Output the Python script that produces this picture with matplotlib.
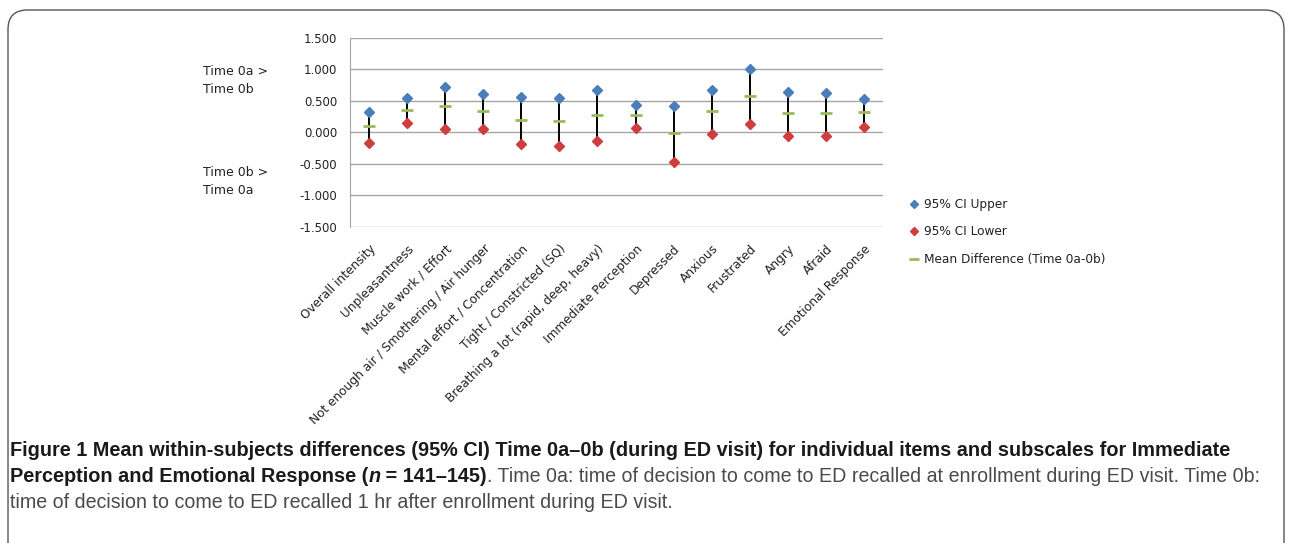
import matplotlib
matplotlib.use("Agg")
import matplotlib.pyplot as plt
from matplotlib.patches import FancyBboxPatch

categories = ["Overall intensity", "Unpleasantness", "Muscle work / Effort",
              "Not enough air / Smothering / Air hunger", "Mental effort / Concentration",
              "Tight / Constricted (SQ)", "Breathing a lot (rapid, deep, heavy)",
              "Immediate Perception", "Depressed", "Anxious", "Frustrated", "Angry",
              "Afraid", "Emotional Response"]
ci_upper = [0.33, 0.548, 0.718, 0.617, 0.564, 0.548, 0.675, 0.44, 0.42, 0.67, 1.01, 0.65, 0.633, 0.527]
ci_lower = [-0.17, 0.149, 0.058, 0.058, -0.186, -0.207, -0.133, 0.064, -0.468, -0.027, 0.133, -0.048, -0.048, 0.085]
mean_diff = [0.096, 0.36, 0.415, 0.34, 0.20, 0.18, 0.27, 0.277, -0.01, 0.34, 0.574, 0.31, 0.31, 0.325]
yticks = [-1.5, -1.0, -0.5, 0.0, 0.5, 1.0, 1.5]

W, H = 1292, 543
fig = plt.figure(figsize=(W / 100, H / 100), dpi=100)
fig.patch.set_facecolor("white")

# frame
frame = FancyBboxPatch((8 / W, -0.05), 1276 / W, (H - 10) / H + 0.05,
                       boxstyle="round,pad=0,rounding_size=0.015",
                       transform=fig.transFigure, fill=False, ec="#555555", lw=1.0,
                       mutation_aspect=W / H)
fig.patches.append(frame)

ax = fig.add_axes([350 / W, 1 - 227 / H, (883 - 350) / W, (227 - 38) / H])
x = list(range(len(categories)))
ax.vlines(x, ci_lower, ci_upper, color="black", lw=1.4, zorder=2)
ax.plot(x, ci_upper, ls="none", marker="D", ms=5.5, color="#4A7EBB", zorder=3, label="95% CI Upper")
ax.plot(x, ci_lower, ls="none", marker="D", ms=5.5, color="#CF3E3E", zorder=3, label="95% CI Lower")
ax.plot(x, mean_diff, ls="none", marker="_", ms=9, mew=2, color="#9BBB59", zorder=4,
        label="Mean Difference (Time 0a-0b)")

ax.set_xlim(-0.5, len(categories) - 0.5)
ax.set_ylim(-1.5, 1.5)
ax.set_yticks(yticks)
ax.set_yticklabels([f"{v:.3f}" for v in yticks], fontsize=8.5, color="#222222")
ax.yaxis.grid(True, color="#A6A6A6", lw=1)
ax.set_axisbelow(True)
ax.tick_params(axis="y", length=0, pad=9)
ax.tick_params(axis="x", length=0, pad=11)
ax.set_xticks(x)
ax.set_xticklabels(categories, rotation=45, ha="right", rotation_mode="anchor",
                   fontsize=8.7, color="#222222")
for s in ["top", "right", "bottom"]:
    ax.spines[s].set_visible(False)
ax.spines["left"].set_color("#A6A6A6")

fig.text(203 / W, 1 - 80 / H, "Time 0a >\nTime 0b", fontsize=9, va="center", ha="left",
         color="#222222", linespacing=1.5)
fig.text(203 / W, 1 - 182 / H, "Time 0b >\nTime 0a", fontsize=9, va="center", ha="left",
         color="#222222", linespacing=1.5)

leg = fig.legend(handles=ax.get_lines()[0:3], loc="upper left",
                 bbox_to_anchor=(899 / W, 1 - 187 / H), frameon=False, fontsize=8.7,
                 handlelength=0.7, handletextpad=0.5, labelspacing=1.2, markerscale=0.8)
for t in leg.get_texts():
    t.set_color("#222222")

# caption
renderer = fig.canvas.get_renderer()
cap_font = ["Liberation Sans", "DejaVu Sans"]
bold_c = "#1a1a1a"
reg_c = "#4a4a4a"

def measure(txt, size, weight, style):
    t = fig.text(0, 0, txt, fontsize=size, family=cap_font, weight=weight, style=style)
    w = t.get_window_extent(renderer=renderer).width
    t.remove()
    return w

def draw_line(pieces, x0, y0):
    xc = x0
    for txt, size, weight, style, color in pieces:
        t = fig.text(xc / W, 1 - y0 / H, txt, fontsize=size, family=cap_font, weight=weight,
                     style=style, color=color, va="baseline", ha="left")
        xc += t.get_window_extent(renderer=renderer).width
    return xc

line1 = "Figure 1 Mean within-subjects differences (95% CI) Time 0a\u20130b (during ED visit) for individual items and subscales for Immediate"
bsize = 13 * 1212 / measure(line1, 13, "bold", "normal")
b2 = ["Perception and Emotional Response (", "n", " = 141\u2013145)"]
reg2 = ". Time 0a: time of decision to come to ED recalled at enrollment during ED visit. Time 0b:"
reg3 = "time of decision to come to ED recalled 1 hr after enrollment during ED visit."
bw = measure(b2[0], bsize, "bold", "normal") + measure(b2[1], bsize, "bold", "italic") + \
     measure(b2[2], bsize, "bold", "normal")
avail = 1254 - 10 - bw
rsize = 13 * avail / measure(reg2, 13, "normal", "normal")
rsize = min(rsize, bsize * 1.05)

draw_line([(line1, bsize, "bold", "normal", bold_c)], 10, 456)
draw_line([(b2[0], bsize, "bold", "normal", bold_c),
           (b2[1], bsize, "bold", "italic", bold_c),
           (b2[2], bsize, "bold", "normal", bold_c),
           (reg2, rsize, "normal", "normal", reg_c)], 10, 482)
draw_line([(reg3, rsize, "normal", "normal", reg_c)], 10, 508)

fig.savefig("out.png", dpi=100)
